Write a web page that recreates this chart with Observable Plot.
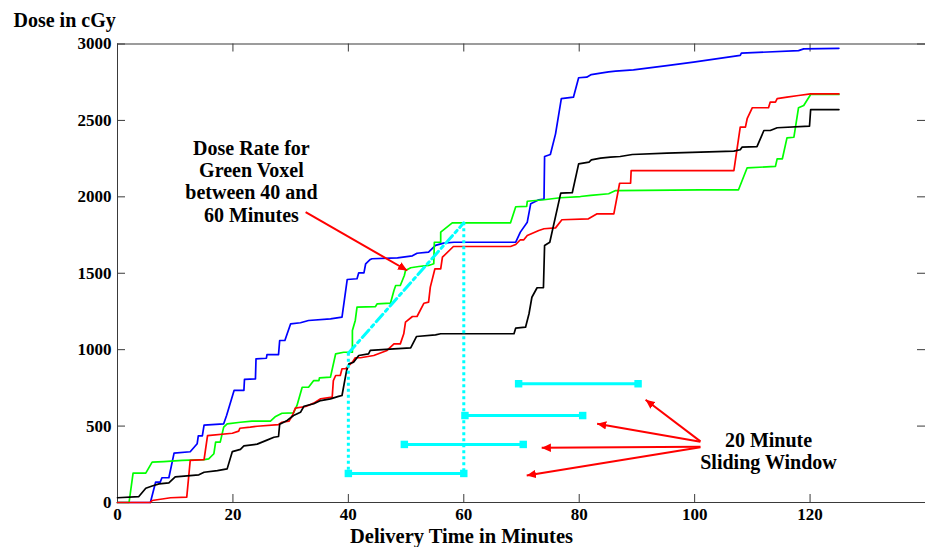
<!DOCTYPE html>
<html>
<head>
<meta charset="utf-8">
<script src="https://cdn.jsdelivr.net/npm/d3@7"></script>
<script src="https://cdn.jsdelivr.net/npm/@observablehq/plot@0.6"></script>
<style>
  html, body { margin: 0; padding: 0; background: #fff; }
  #chart svg { display: block; }
</style>
</head>
<body>
<div id="chart"></div>
<script>
// ---- Data (time in minutes, dose in cGy) ----
const xTicks = [0, 20, 40, 60, 80, 100, 120];
const yTicks = [0, 500, 1000, 1500, 2000, 2500, 3000];

const blue = [[0,0],[5.7,0],[6.6,133],[7.4,133],[7.7,162],[8.9,162],[9.8,323],[12.6,332],[13.8,384],[14.0,436],[14.7,436],[15.0,506],[18.4,515],[18.9,569],[20.2,733],[21.9,733],[22.0,805],[23.9,809],[24.0,940],[25.8,944],[25.9,968],[27.9,968],[28.1,1060],[29.0,1060],[30.0,1169],[31.7,1176],[33.1,1191],[36.9,1202],[38.9,1213],[39.8,1459],[41.5,1464],[41.8,1503],[42.7,1503],[43.0,1562],[43.8,1590],[44.1,1595],[48.5,1601],[51.1,1614],[51.9,1631],[53.9,1638],[55.1,1682],[56.5,1697],[58.3,1703],[69.0,1703],[69.8,1769],[71.0,1834],[71.6,1955],[73.0,1981],[73.9,1985],[74.0,2264],[75.0,2277],[75.9,2412],[76.9,2642],[79.0,2652],[79.9,2779],[81.3,2783],[82.1,2800],[83.7,2809],[85.1,2818],[86.3,2822],[89.4,2831],[95.2,2859],[99.8,2881],[107.9,2925],[108.1,2940],[118.0,2957],[118.9,2968],[125,2972]];

const green = [[0,0],[2.0,0],[2.7,192],[4.9,192],[6.0,264],[8.0,268],[11.2,275],[15.0,281],[15.8,286],[16.7,319],[17.0,395],[17.8,395],[18.4,493],[19.0,515],[21.3,525],[23.3,532],[26.5,532],[27.4,563],[28.5,584],[30.5,587],[31.1,635],[32.0,754],[33.1,754],[34.0,798],[34.9,798],[35.0,816],[36.9,820],[37.8,973],[39.2,983],[40.7,983],[40.7,1125],[41.2,1191],[41.5,1278],[44.7,1282],[45.0,1300],[47.3,1304],[47.9,1387],[48.2,1420],[49.0,1420],[49.7,1485],[49.9,1518],[50.8,1536],[52.2,1544],[53.9,1551],[54.8,1562],[54.9,1703],[56.0,1703],[56.0,1769],[58.0,1830],[68.1,1830],[69.0,1935],[70.9,1937],[71.0,1971],[73.9,1981],[76.7,1994],[80.2,2002],[82.0,2009],[85.1,2020],[86.3,2041],[101,2046],[107.6,2046],[109.1,2190],[114.0,2199],[114.3,2249],[115.2,2249],[116.0,2386],[117.2,2390],[118.0,2583],[118.9,2598],[120.1,2670],[125,2670]];

const red = [[0,0],[5.7,0],[6.0,13],[9.2,31],[12.0,35],[12.6,275],[15.0,281],[15.6,438],[19.9,453],[21.0,467],[21.2,486],[23.0,493],[24.2,499],[27.9,510],[28.5,525],[29.7,532],[30.3,569],[30.8,617],[32.6,628],[34.0,650],[35.2,679],[37.2,689],[37.4,798],[37.8,831],[38.6,831],[38.9,875],[39.5,875],[40.7,918],[41.2,947],[42.1,947],[44.4,962],[46.7,995],[47.9,1038],[49.0,1038],[49.6,1104],[49.9,1180],[51.1,1217],[51.9,1217],[53.1,1304],[53.9,1311],[54.2,1409],[55.0,1529],[56.0,1529],[56.3,1605],[58.2,1675],[68.1,1675],[69.0,1688],[69.8,1719],[70.4,1719],[71.0,1747],[73.0,1780],[73.9,1791],[75.9,1797],[77.0,1850],[81.6,1856],[83.1,1889],[86.0,1889],[87.0,2089],[88.9,2089],[89.0,2172],[106.8,2172],[107.9,2456],[108.8,2456],[109.1,2511],[110.0,2583],[112.8,2583],[113.1,2620],[114.0,2620],[114.3,2642],[116.0,2652],[118.0,2663],[120.1,2674],[125,2674]];

const black = [[0,31],[3.7,39],[4.9,93],[6.0,108],[7.2,122],[8.9,129],[10.0,168],[14.1,181],[15.0,198],[17.3,209],[19.0,220],[19.9,333],[21.3,348],[21.9,370],[24.2,382],[25.9,408],[27.1,427],[27.9,432],[28.1,512],[29.4,537],[30.5,569],[31.7,590],[32.3,630],[34.0,646],[35.2,667],[36.9,678],[38.3,694],[38.9,700],[39.7,864],[40.1,907],[40.9,918],[41.8,962],[43.5,973],[43.8,995],[47.9,1005],[50.8,1012],[51.8,1086],[55.1,1097],[56.0,1104],[68.7,1104],[69.0,1141],[70.7,1147],[71.3,1235],[71.8,1343],[72.7,1405],[73.8,1405],[74.0,1682],[74.9,1703],[76.8,2024],[78.8,2027],[79.9,2216],[81.7,2227],[82.1,2242],[83.7,2253],[85.4,2260],[87.1,2264],[89.2,2277],[95.2,2286],[106.8,2299],[107.9,2308],[108.2,2325],[110.8,2329],[112.0,2434],[113.1,2434],[114.3,2452],[119.9,2462],[120.1,2571],[125,2571]];

// Dose-rate annotation (green voxel 40 -> 60 min)
const rateLine = [[40, 977], [60, 1830]];
const rateVerticals = [{t: 40, top: 977, bottom: 190}, {t: 60, top: 1830, bottom: 190}];

// 20 minute sliding windows
const windows = [
  {start: 40, end: 60, d: 190},
  {start: 49.7, end: 70.3, d: 380},
  {start: 60.2, end: 80.6, d: 569},
  {start: 69.5, end: 90.2, d: 777}
];

// annotation arrows
const arrows = [
  {x1: 32.6, y1: 1900, x2: 50.2, y2: 1518},
  {x1: 101.0, y1: 400, x2: 91.5, y2: 672},
  {x1: 101.0, y1: 398, x2: 83.1, y2: 515},
  {x1: 101.0, y1: 364, x2: 73.5, y2: 358},
  {x1: 101.0, y1: 362, x2: 70.9, y2: 177}
];

const notes = [
  {t: 23.2, d: 2104, text: "Dose Rate for\nGreen Voxel\nbetween 40 and\n60 Minutes"},
  {t: 112.8, d: 340, text: "20 Minute\nSliding Window"}
];

const yLabel = "Dose in cGy";
const xLabel = "Delivery Time in Minutes";

// ---- Drawing ----
const W = 925, H = 547;
const mL = 117, mR = 0, mT = 43.5, mB = 45;
const innerW = W - mL - mR, innerH = H - mT - mB;
const TICK = 8;
const FONT = "'Liberation Serif', 'Times New Roman', serif";
const AXIS_COLOR = "#3a3a3a";
const CYAN = "#00ffff";

const toPts = arr => arr.map(([t, d]) => ({t, d}));

function filledArrow(color, context) {
  const doc = (context && context.document) || document;
  const ns = "http://www.w3.org/2000/svg";
  const m = doc.createElementNS(ns, "marker");
  m.setAttribute("viewBox", "-10 -5 10 10");
  m.setAttribute("markerWidth", "4.6");
  m.setAttribute("markerHeight", "4.6");
  m.setAttribute("orient", "auto");
  m.setAttribute("refX", "0");
  m.setAttribute("refY", "0");
  const p = doc.createElementNS(ns, "path");
  p.setAttribute("d", "M-10,-4.6L0,0L-10,4.6Z");
  p.setAttribute("fill", color);
  p.setAttribute("stroke", "none");
  m.appendChild(p);
  return m;
}

function build(marker) {
  return Plot.plot({
    width: W, height: H,
    marginLeft: mL, marginRight: mR, marginTop: mT, marginBottom: mB,
    style: {fontFamily: FONT, fontWeight: "bold", background: "#fff", color: "#000"},
    x: {domain: [0, 140]},
    y: {domain: [0, 3000]},
    marks: [
      Plot.frame({stroke: AXIS_COLOR, strokeWidth: 1}),
      // inward ticks (bottom, top, left, right)
      Plot.ruleX(xTicks, {stroke: AXIS_COLOR, insetTop: innerH - TICK}),
      Plot.ruleX(xTicks, {stroke: AXIS_COLOR, insetBottom: innerH - TICK}),
      Plot.ruleY(yTicks, {stroke: AXIS_COLOR, insetRight: innerW - TICK}),
      Plot.ruleY(yTicks, {stroke: AXIS_COLOR, insetLeft: innerW - TICK}),
      Plot.axisX({ticks: xTicks, tickSize: 0, tickPadding: 5, tickFormat: d => String(d), label: null, fontSize: 17, fontWeight: "bold", fill: "#000"}),
      Plot.axisY({ticks: yTicks, tickSize: 0, tickPadding: 6, tickFormat: d => String(d), label: null, fontSize: 17, fontWeight: "bold", fill: "#000"}),
      // data curves
      Plot.line(toPts(blue), {x: "t", y: "d", stroke: "#0000ff", strokeWidth: 1.7}),
      Plot.line(toPts(green), {x: "t", y: "d", stroke: "#00ff00", strokeWidth: 1.7}),
      Plot.line(toPts(red), {x: "t", y: "d", stroke: "#ff0000", strokeWidth: 1.7}),
      Plot.line(toPts(black), {x: "t", y: "d", stroke: "#000000", strokeWidth: 1.7}),
      // dose rate annotation
      Plot.ruleX(rateVerticals, {x: "t", y1: "top", y2: "bottom", stroke: CYAN, strokeWidth: 3, strokeDasharray: "3,3"}),
      Plot.line(toPts(rateLine), {x: "t", y: "d", stroke: CYAN, strokeWidth: 3, strokeDasharray: "10,4,3,4"}),
      // sliding windows
      Plot.ruleY(windows, {x1: "start", x2: "end", y: "d", stroke: CYAN, strokeWidth: 3}),
      Plot.dot(windows, {x: "start", y: "d", symbol: "square", r: 4.2, fill: CYAN, stroke: "none"}),
      Plot.dot(windows, {x: "end", y: "d", symbol: "square", r: 4.2, fill: CYAN, stroke: "none"}),
      // arrows
      Plot.link(arrows, {x1: "x1", y1: "y1", x2: "x2", y2: "y2", stroke: "#ff0000", strokeWidth: 2, markerEnd: marker}),
      // annotation texts
      Plot.text(notes, {x: "t", y: "d", text: "text", fontSize: 20, fontWeight: "bold", lineHeight: 1.12, textAnchor: "middle", lineAnchor: "middle", fill: "#000"}),
      Plot.text([yLabel], {frameAnchor: "top-left", text: d => d, dx: -104, dy: -23, textAnchor: "start", lineAnchor: "middle", fontSize: 20, fontWeight: "bold", fill: "#000"}),
      Plot.text([xLabel], {frameAnchor: "bottom", text: d => d, dx: -60, dy: 33.5, textAnchor: "middle", lineAnchor: "middle", fontSize: 20.5, fontWeight: "bold", fill: "#000"})
    ]
  });
}

let chart;
try {
  chart = build(filledArrow);
} catch (e) {
  chart = build("arrow");
}
document.getElementById("chart").appendChild(chart);
</script>
</body>
</html>
